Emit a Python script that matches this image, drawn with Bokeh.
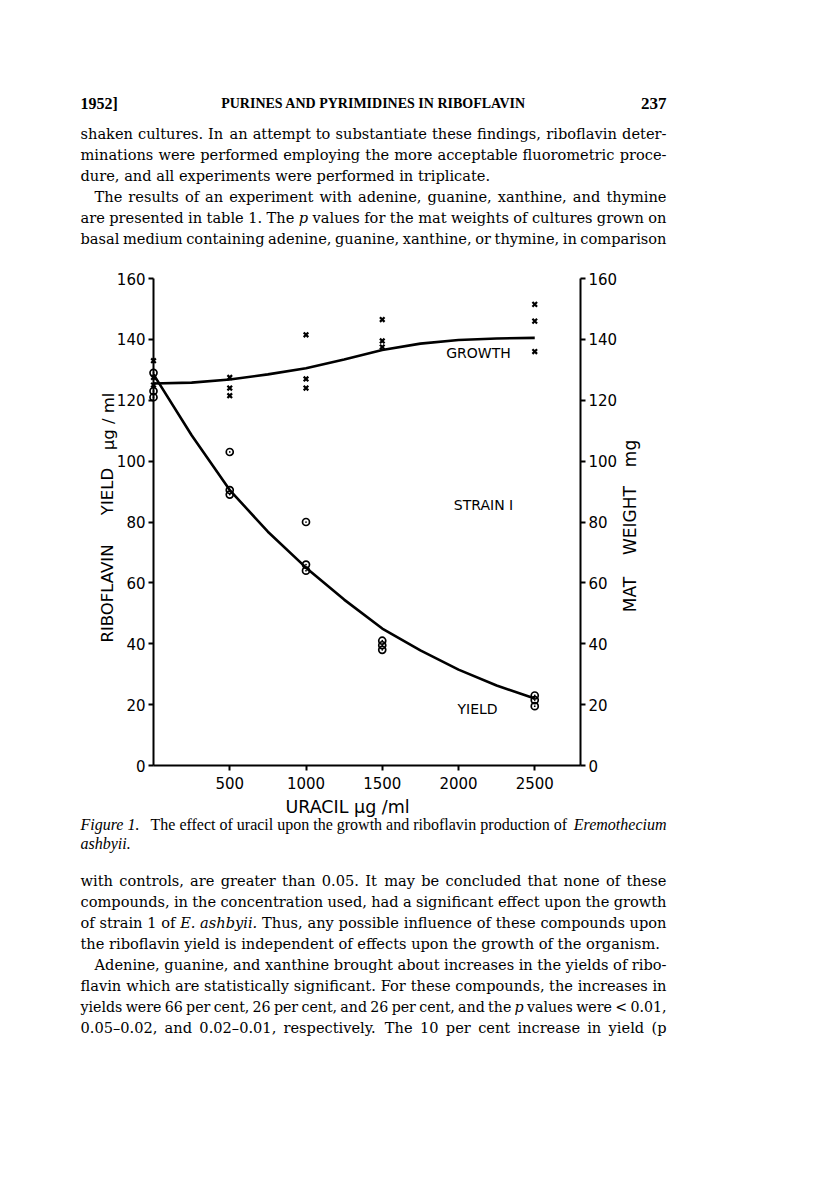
from bokeh.plotting import figure
from bokeh.models import Range1d, LinearAxis, Label, FixedTicker
from bokeh.embed import file_html
from bokeh.resources import INLINE

# ---------------- data ----------------
x_ticks = [500, 1000, 1500, 2000, 2500]
y_ticks = [0, 20, 40, 60, 80, 100, 120, 140, 160]
x_axis_span = (0, 2800)
y_axis_span = (0, 160)

growth_x = [0, 0, 0, 500, 500, 500, 1000, 1000, 1000, 1500, 1500, 1500, 2500, 2500, 2500]
growth_y = [133, 127.5, 125, 127.5, 124, 121.5, 141.5, 127, 124, 146.5, 139.5, 137.5, 151.5, 146, 136]

yield_x = [0, 0, 0, 500, 500, 500, 1000, 1000, 1000, 1500, 1500, 1500, 2500, 2500, 2500]
yield_y = [129, 123, 121, 103, 90.5, 89, 80, 66, 64, 41, 39.5, 38, 23, 21.5, 19.5]

curve_x = [0, 250, 500, 750, 1000, 1250, 1500, 1750, 2000, 2250, 2500]
growth_curve = [125.5, 125.8, 126.8, 128.5, 130.5, 133.4, 136.5, 138.6, 139.8, 140.3, 140.5]
yield_curve = [128.5, 108.5, 90.5, 76.8, 65, 54.5, 45, 37.8, 31.5, 26.3, 22]

# ---------------- page text ----------------
header_left = "1952]"
header_title = "PURINES AND PYRIMIDINES IN RIBOFLAVIN"
header_right = "237"

top_lines = [
    "shaken cultures. In an attempt to substantiate these findings, riboflavin deter-",
    "minations were performed employing the more acceptable fluorometric proce-",
    "dure, and all experiments were performed in triplicate.",
    "The results of an experiment with adenine, guanine, xanthine, and thymine",
    "are presented in table 1. The p values for the mat weights of cultures grown on",
    "basal medium containing adenine, guanine, xanthine, or thymine, in comparison",
]
top_italic = [(), (), (), (), (6,), ()]          # word indices set in italics

bottom_lines = [
    "with controls, are greater than 0.05. It may be concluded that none of these",
    "compounds, in the concentration used, had a significant effect upon the growth",
    "of strain 1 of E. ashbyii. Thus, any possible influence of these compounds upon",
    "the riboflavin yield is independent of effects upon the growth of the organism.",
    "Adenine, guanine, and xanthine brought about increases in the yields of ribo-",
    "flavin which are statistically significant. For these compounds, the increases in",
    "yields were 66 per cent, 26 per cent, and 26 per cent, and the p values were < 0.01,",
    "0.05\u20130.02, and 0.02\u20130.01, respectively. The 10 per cent increase in yield (p",
]
bottom_italic = [(), (), (4, 5), (), (), (), (14,), ()]

caption_parts = ("Figure 1.", "The effect of uracil upon the growth and riboflavin production of",
                 "Eremothecium", "ashbyii.")

# ---------------- layout (page pixels) ----------------
W, H = 800, 1184
BL, BR, BT, BB = 50, 50, 30, 40          # borders round the (page-wide) frame
X0, KX = 153.0, 427.0 / 2800             # page x of uracil 0, px per unit
Y0, KY = 765.0, 487.0 / 160              # page y of value 0, px per unit
LM, RM = 80, 666                         # text block edges
IND = 14                                 # paragraph indent
BASE = 14.6                              # body font size
# natural width of each line at 14px DejaVu Serif (None = last line, not justified)
top_w14 = [557, 559, None, 536, 565, 572]
top_ind = [0, 0, 0, IND, 0, 0]
bot_w14 = [541, 566, 561, None, 551, 562, 600, 533]
bot_ind = [0, 0, 0, 0, IND, 0, 0, 0]
bot_size = [BASE, BASE, BASE, BASE, BASE, BASE, 14.2, BASE]

# approximate advance widths (em) of DejaVu Serif, for spreading words
CW = {" ": .318, ",": .318, ".": .318, "-": .338, "(": .390, ")": .390, "<": .838,
      "\u2013": .5, "a": .596, "b": .640, "c": .552, "d": .640, "e": .592, "f": .370,
      "g": .640, "h": .644, "i": .320, "j": .320, "k": .604, "l": .320, "m": .948,
      "n": .644, "o": .602, "p": .640, "q": .640, "r": .478, "s": .513, "t": .402,
      "u": .644, "v": .569, "w": .856, "x": .569, "y": .569, "z": .525,
      "I": .468, "T": .670, "A": .722, "F": .652, "E": .726}


def est(s):
    return sum(CW.get(c, .636 if c.isdigit() else .72) for c in s)


def dx(px):
    return (px - X0) / KX


def dy(py):
    return (Y0 - py) / KY


p = figure(width=W, height=H, output_backend="svg", toolbar_location=None,
           title=None, x_axis_location=None, y_axis_location=None,
           x_range=Range1d(dx(BL), dx(W - BR)), y_range=Range1d(dy(H - BB), dy(BT)),
           min_border_left=BL, min_border_right=BR,
           min_border_top=BT, min_border_bottom=BB)
p.outline_line_color = None
p.background_fill_color = "white"
p.border_fill_color = "white"
p.grid.visible = False

left_axis = LinearAxis(fixed_location=x_axis_span[0], bounds=y_axis_span,
                       ticker=FixedTicker(ticks=y_ticks))
right_axis = LinearAxis(fixed_location=x_axis_span[1], bounds=y_axis_span,
                        ticker=FixedTicker(ticks=y_ticks))
bottom_axis = LinearAxis(fixed_location=y_axis_span[0], bounds=x_axis_span,
                         ticker=FixedTicker(ticks=x_ticks))
p.add_layout(left_axis, "left")
p.add_layout(right_axis, "right")
p.add_layout(bottom_axis, "below")

for ax in [left_axis, right_axis, bottom_axis]:
    ax.axis_line_width = 2
    ax.axis_line_color = "black"
    ax.major_tick_line_width = 2
    ax.major_tick_line_color = "black"
    ax.major_tick_out = 5
    ax.major_tick_in = 0
    ax.minor_tick_out = 0
    ax.minor_tick_in = 0
    ax.major_label_text_font = "DejaVu Sans"
    ax.major_label_text_font_size = "15px"
    ax.major_label_text_color = "black"
    ax.major_label_standoff = 3
bottom_axis.major_label_standoff = 6

p.line(curve_x, growth_curve, line_width=2.6, line_color="black")
p.line(curve_x, yield_curve, line_width=2.6, line_color="black")
p.scatter(growth_x, growth_y, marker="x", size=6.5, line_width=2.2, line_color="black")
p.scatter(yield_x, yield_y, marker="circle_dot", size=7, line_width=1.7,
          line_color="black", fill_color=None)


def put(txt, px, py, size, font="DejaVu Serif", style="normal", align="left", angle=0):
    p.add_layout(Label(x=dx(px), y=dy(py), text=txt, text_font=font,
                       text_font_size=f"{size:.2f}px", text_font_style=style,
                       text_align=align, text_baseline="middle",
                       angle=angle, angle_units="deg", text_color="black"))


def body_line(text, py, w14, indent, size=BASE, italic=()):
    """Justified line: words spread between the two margins."""
    if w14 is None:
        put(text, LM + indent, py, size)
        return
    words = text.split(" ")
    k = (w14 * size / 14) / est(text)            # px per em, calibrated on the line
    widths = [est(w) * k for w in words]
    gap = (RM - LM - indent - sum(widths)) / (len(words) - 1)
    x = LM + indent
    for j, (w, wd) in enumerate(zip(words, widths)):
        st = "italic" if j in italic else "normal"
        if j == len(words) - 1:
            put(w, RM, py, size, style=st, align="right")
        else:
            put(w, x, py, size, style=st)
        x += wd + gap


SANS = "DejaVu Sans"
HSERIF = "Liberation Serif"

# header
put(header_left, LM, 103, 16, font=HSERIF, style="bold")
put(header_title, (LM + RM) / 2, 103, 14, font=HSERIF, style="bold", align="center")
put(header_right, RM, 103, 17, font=HSERIF, style="bold", align="right")

for i, t in enumerate(top_lines):
    body_line(t, 133 + 21 * i, top_w14[i], top_ind[i], BASE, top_italic[i])

# chart texts
put("GROWTH", 478, 352, 14, font=SANS, align="center")
put("STRAIN I", 483, 504, 14, font=SANS, align="center")
put("YIELD", 477, 708, 14, font=SANS, align="center")
put("RIBOFLAVIN", 107, 593, 16.5, font=SANS, align="center", angle=90)
put("YIELD", 107, 491, 16.5, font=SANS, align="center", angle=90)
put("\u03bcg / ml", 108, 421, 16.5, font=SANS, align="center", angle=90)
put("MAT", 629, 594, 17, font=SANS, align="center", angle=90)
put("WEIGHT", 629, 520, 17, font=SANS, align="center", angle=90)
put("mg", 629, 453, 17, font=SANS, align="center", angle=90)
put("URACIL \u03bcg /ml", 347, 806, 17.5, font=SANS, align="center")

# caption
put(caption_parts[0], LM, 824, 16, font=HSERIF, style="italic")
put(caption_parts[1], 150, 824, 16, font=HSERIF)
put(caption_parts[2], RM, 824, 16, font=HSERIF, style="italic", align="right")
put(caption_parts[3], LM, 843, 16, font=HSERIF, style="italic")

for i, t in enumerate(bottom_lines):
    body_line(t, 880 + 21 * i, bot_w14[i], bot_ind[i], bot_size[i], bottom_italic[i])

open("out.html", "w").write(file_html(p, INLINE))
